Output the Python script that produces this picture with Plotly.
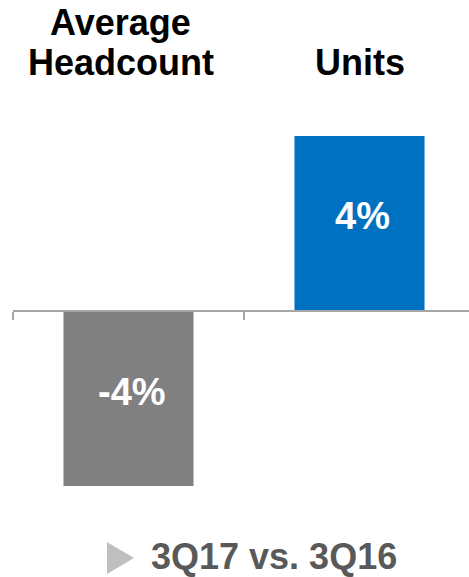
import plotly.graph_objects as go

# Year-over-year change, 3Q17 vs. 3Q16
categories = ["Average Headcount", "Units"]
header_lines = [["Average", "Headcount"], ["Units"]]
changes = [-4, 4]
bar_colors = ["#808080", "#0070C0"]
footer_label = "3Q17 vs. 3Q16"

W, H = 469, 577
M_L, M_R, M_T, M_B = 13, 0, 90, 57
Y_MIN, Y_MAX = -4.777, 5.051
X_MIN, X_MAX = -0.5, 1.474

plot_w = W - M_L - M_R
plot_h = H - M_T - M_B


def px_to_paper(px, py):
    return (px - M_L) / plot_w, (H - M_B - py) / plot_h


FONT = "Liberation Sans, Arial, sans-serif"

fig = go.Figure(
    go.Bar(
        x=categories,
        y=changes,
        width=0.563,
        marker=dict(color=bar_colors, line=dict(width=0)),
        hoverinfo="skip",
    )
)

# value labels centred inside each bar
for cat, v in zip(categories, changes):
    fig.add_annotation(
        x=cat, xref="x", y=v / 2, yref="y",
        xshift=3, yshift=7,
        text=f"<b>{v}%</b>", showarrow=False,
        xanchor="center", yanchor="middle",
        font=dict(family=FONT, size=38, color="white"),
    )

# category headers above the chart, one annotation per line (bottom line first)
LINE_STEP = 40
for i, (cat, lines) in enumerate(zip(categories, header_lines)):
    for k, line in enumerate(reversed(lines)):
        fig.add_annotation(
            x=cat, xref="x", y=px_to_paper(0, 85 - k * LINE_STEP)[1], yref="paper",
            xshift=-8 if i == 0 else 0,
            text=f"<b>{line}</b>", showarrow=False,
            xanchor="center", yanchor="bottom",
            font=dict(family=FONT, size=36, color="#000000"),
        )

# footer with a pointer triangle
fx, fy = px_to_paper(149, 556)
fig.add_annotation(
    x=fx, xref="paper", y=fy, yref="paper",
    text=f"<b>{footer_label}</b>", showarrow=False,
    xanchor="left", yanchor="middle",
    font=dict(family=FONT, size=36, color="#595959"),
)
p1 = px_to_paper(107, 542)
p2 = px_to_paper(107, 574)
p3 = px_to_paper(134, 558)
fig.add_shape(
    type="path", xref="paper", yref="paper",
    path=f"M {p1[0]} {p1[1]} L {p2[0]} {p2[1]} L {p3[0]} {p3[1]} Z",
    fillcolor="#BFBFBF", line=dict(width=0),
)

zero_pos = (0 - Y_MIN) / (Y_MAX - Y_MIN)

fig.update_layout(
    width=W, height=H,
    margin=dict(l=M_L, r=M_R, t=M_T, b=M_B, autoexpand=False),
    paper_bgcolor="white", plot_bgcolor="white",
    showlegend=False,
    xaxis=dict(
        type="category", categoryorder="array", categoryarray=categories,
        range=[X_MIN, X_MAX], anchor="free", position=zero_pos,
        showline=True, linecolor="#A6A6A6", linewidth=2,
        ticks="outside", tickson="boundaries", ticklen=8,
        tickwidth=2, tickcolor="#A6A6A6",
        showticklabels=False,
        showgrid=False, zeroline=False, fixedrange=True,
    ),
    yaxis=dict(
        range=[Y_MIN, Y_MAX], visible=False,
        showgrid=False, zeroline=False, fixedrange=True,
    ),
)

fig.write_html("out.html")
